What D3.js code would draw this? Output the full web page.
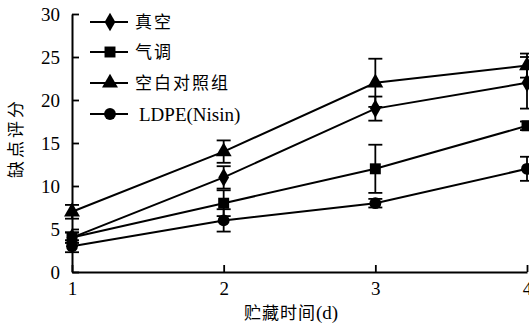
<!DOCTYPE html>
<html>
<head>
<meta charset="utf-8">
<script src="https://cdn.jsdelivr.net/npm/d3@7"></script>
<style>
  body { margin: 0; background: #fff; }
  svg { display: block; }
  .tick-label { font-family: "Liberation Serif", "DejaVu Serif", serif; font-size: 19px; fill: #000; }
  .cjk { font-family: "Noto Sans CJK SC", sans-serif; font-size: 17px; fill: #000; }
</style>
</head>
<body>
<div id="chart"></div>
<script>
// storage days
const days = [1, 2, 3, 4];
const yTicks = [0, 5, 10, 15, 20, 25, 30];

// series names (legend order)
const seriesNames = ["真空", "气调", "空白对照组", "LDPE(Nisin)"];
const seriesSymbols = ["diamond", "square", "triangle", "circle"];

// defect scores
const vacuum = [4, 11, 19, 22];
const vacuumErr = [0.6, 1.3, 1.4, 3.0];
const modified = [4, 8, 12, 17];
const modifiedErr = [0.6, 1.5, 2.8, 0.5];
const control = [7, 14, 22, 24];
const controlErr = [0.8, 1.3, 2.8, 1.4];
const ldpe = [3, 6, 8, 12];
const ldpeErr = [0.7, 1.3, 0.5, 1.4];

const seriesValues = [vacuum, modified, control, ldpe];
const seriesErrors = [vacuumErr, modifiedErr, controlErr, ldpeErr];

const width = 529, height = 326;
const margin = {top: 14, right: 2, bottom: 54, left: 72};

const svg = d3.select("#chart").append("svg")
  .attr("width", width)
  .attr("height", height);

const x = d3.scaleLinear().domain([1, 4]).range([margin.left, width - margin.right]);
const y = d3.scaleLinear().domain([0, 30]).range([height - margin.bottom, margin.top]);

// axes, ticks pointing inward
const xAxis = svg.append("g")
  .attr("transform", "translate(0," + y(0) + ")")
  .call(d3.axisBottom(x).tickValues(days).tickSizeInner(-7).tickSizeOuter(0).tickFormat(d3.format("d")));
xAxis.select(".domain").attr("stroke", "#000").attr("stroke-width", 2);
xAxis.selectAll(".tick line").attr("stroke-width", 1.8);
xAxis.selectAll(".tick text")
  .attr("class", "tick-label")
  .attr("font-size", null).attr("font-family", null)
  .attr("y", 10)
  .attr("dy", "0.71em");

const yAxis = svg.append("g")
  .attr("transform", "translate(" + x(1) + ",0)")
  .call(d3.axisLeft(y).tickValues(yTicks).tickSizeInner(-7).tickSizeOuter(0));
yAxis.select(".domain").attr("stroke", "#000").attr("stroke-width", 2);
yAxis.selectAll(".tick line").attr("stroke-width", 1.8);
yAxis.selectAll(".tick text")
  .attr("class", "tick-label")
  .attr("font-size", null).attr("font-family", null)
  .attr("x", -12);

// axis titles
svg.append("text")
  .attr("class", "cjk")
  .attr("x", 291)
  .attr("y", 319)
  .attr("text-anchor", "middle")
  .attr("font-size", 19)
  .attr("letter-spacing", 1)
  .text("贮藏时间")
  .append("tspan")
  .attr("class", "tick-label")
  .attr("letter-spacing", 0)
  .text("(d)");

svg.append("text")
  .attr("class", "cjk")
  .attr("transform", "translate(22," + 138 + ") rotate(-90)")
  .attr("text-anchor", "middle")
  .attr("font-size", 19)
  .attr("letter-spacing", 3)
  .text("缺点评分");

const symbolType = {
  diamond: d3.symbolDiamond,
  square: d3.symbolSquare,
  triangle: d3.symbolTriangle,
  circle: d3.symbolCircle
};
const symbolSize = {diamond: 100, square: 120, triangle: 110, circle: 110};

const line = d3.line()
  .x((d, i) => x(days[i]))
  .y(d => y(d));

const plot = svg.append("g");

// lines
seriesValues.forEach((vals) => {
  plot.append("path")
    .datum(vals)
    .attr("fill", "none")
    .attr("stroke", "#000")
    .attr("stroke-width", 2)
    .attr("d", line);
});

// error bars
seriesValues.forEach((vals, s) => {
  const errs = seriesErrors[s];
  const g = plot.append("g").attr("stroke", "#000").attr("stroke-width", 1.8);
  vals.forEach((v, i) => {
    const cx = x(days[i]);
    const top = y(v + errs[i]), bot = y(v - errs[i]);
    g.append("line").attr("x1", cx).attr("x2", cx).attr("y1", top).attr("y2", bot);
    g.append("line").attr("x1", cx - 7).attr("x2", cx + 7).attr("y1", top).attr("y2", top);
    g.append("line").attr("x1", cx - 7).attr("x2", cx + 7).attr("y1", bot).attr("y2", bot);
  });
});

// markers
seriesValues.forEach((vals, s) => {
  const sym = seriesSymbols[s];
  plot.append("g").selectAll("path")
    .data(vals)
    .join("path")
    .attr("transform", (d, i) => "translate(" + x(days[i]) + "," + y(d) + ")")
    .attr("d", d3.symbol().type(symbolType[sym]).size(symbolSize[sym]))
    .attr("fill", "#000");
});

// legend
const legendY = [22, 52, 83, 114];
const legend = svg.append("g");
seriesNames.forEach((name, s) => {
  const sym = seriesSymbols[s];
  const ly = legendY[s];
  legend.append("line")
    .attr("x1", 90).attr("x2", 128)
    .attr("y1", ly).attr("y2", ly)
    .attr("stroke", "#000").attr("stroke-width", 2);
  legend.append("path")
    .attr("transform", "translate(110," + ly + ")")
    .attr("d", d3.symbol().type(symbolType[sym]).size(symbolSize[sym]))
    .attr("fill", "#000");
  const t = legend.append("text")
    .attr("x", s === 3 ? 139 : 135)
    .attr("y", ly)
    .attr("dy", "0.35em");
  if (s === 3) {
    t.attr("class", "tick-label").attr("font-size", 19).text(name);
  } else {
    t.attr("class", "cjk").attr("font-size", 18).attr("letter-spacing", 2).text(name);
  }
});
</script>
</body>
</html>
